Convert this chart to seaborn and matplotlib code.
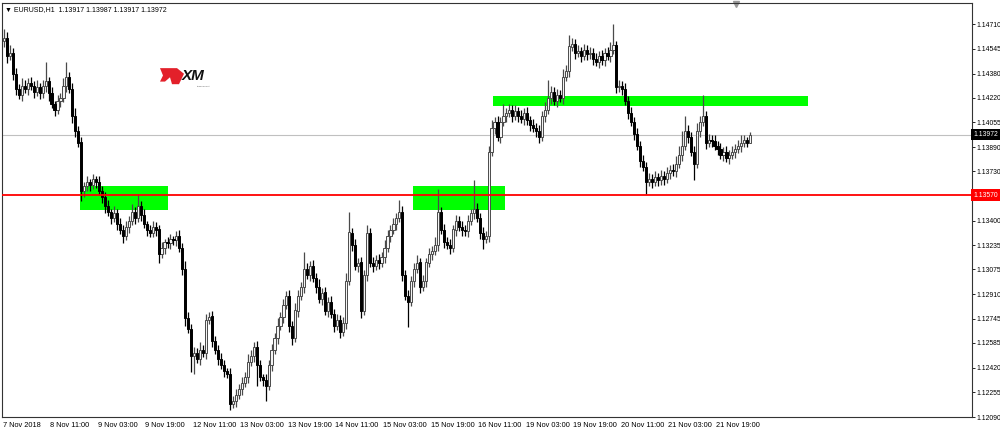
import numpy as np
import pandas as pd
import matplotlib
matplotlib.use("Agg")
import matplotlib.pyplot as plt
import seaborn as sns
from matplotlib.patches import Rectangle, Polygon
from matplotlib.transforms import blended_transform_factory


# EURUSD H1 candles, prices kept in pips above 1.1200
PRICE_BASE = 1.12
PIP = 0.0001

FIRST_OPEN = 260

CLOSES = [
    262, 250, 252, 238, 228, 224, 230, 228, 232, 230,
    226, 229, 225, 230, 233, 225, 218, 214, 220, 222,
    230, 236, 228, 210, 200, 192, 160, 163, 166, 164,
    168, 166, 160, 156, 150, 146, 142, 145, 138, 134,
    130, 136, 140, 146, 142, 150, 144, 138, 134, 132,
    136, 134, 118, 122, 126, 125, 128, 127, 130, 122,
    108, 75, 68, 50, 52, 48, 54, 52, 74, 76,
    60, 54, 48, 44, 40, 38, 18, 20, 24, 28,
    32, 36, 46, 50, 56, 44, 36, 34, 30, 44,
    54, 62, 70, 76, 84, 90, 70, 62, 80, 90,
    96, 108, 104, 110, 102, 96, 88, 92, 80, 86,
    78, 70, 74, 66, 72, 100, 132, 124, 110, 112,
    80, 104, 132, 112, 110, 114, 112, 116, 122, 130,
    134, 138, 142, 146, 104, 90, 86, 100, 108, 112,
    96, 100, 112, 118, 120, 124, 146, 134, 126, 124,
    122, 134, 140, 136, 134, 133, 140, 145, 148, 142,
    132, 128, 130, 186, 202, 206, 196, 206, 210, 212,
    214, 210, 213, 210, 208, 212, 207, 204, 202, 200,
    196, 210, 214, 222, 226, 220, 224, 222, 236, 240,
    256, 258, 252, 253, 250, 254, 251, 252, 248, 246,
    250, 247, 252, 250, 254, 257, 229, 230, 228, 220,
    212, 206, 198, 190, 180, 176, 166, 168, 166, 169,
    167, 170, 168, 172, 174, 173, 178, 184, 190, 200,
    196, 186, 178, 200, 206, 210, 192, 194, 193, 190,
    188, 184, 186, 182, 184, 186, 188, 190, 192, 194,
    191.7, 197.2,
]

UPPER_WICKS = [
    6, 4, 5, 3, 4, 3, 5, 4, 3, 4,
    3, 5, 3, 4, 13, 3, 4, 2, 4, 3,
    5, 10, 3, 4, 5, 3, 4, 3, 4, 2,
    3, 2, 4, 3, 3, 4, 2, 5, 3, 4,
    3, 4, 3, 5, 3, 8, 3, 4, 2, 3,
    4, 3, 3, 4, 2, 3, 3, 2, 3, 4,
    3, 5, 4, 3, 4, 3, 5, 3, 4, 3,
    4, 3, 3, 4, 3, 2, 4, 3, 4, 3,
    4, 3, 5, 4, 3, 4, 3, 2, 4, 3,
    4, 3, 5, 3, 4, 3, 4, 3, 5, 4,
    3, 11, 4, 3, 4, 3, 5, 3, 4, 3,
    4, 3, 4, 3, 4, 5, 14, 3, 4, 3,
    4, 3, 5, 3, 4, 3, 4, 3, 5, 4,
    3, 4, 3, 8, 4, 3, 4, 3, 4, 5,
    3, 4, 3, 4, 3, 5, 15, 3, 4, 3,
    4, 3, 4, 3, 4, 3, 4, 3, 19, 4,
    3, 4, 3, 4, 5, 3, 4, 3, 8, 3,
    4, 3, 4, 3, 4, 3, 4, 3, 4, 3,
    4, 3, 5, 12, 4, 3, 4, 3, 5, 4,
    8, 4, 3, 4, 3, 4, 3, 4, 3, 4,
    3, 4, 3, 4, 5, 14, 3, 4, 3, 4,
    3, 4, 3, 4, 3, 4, 3, 4, 3, 4,
    3, 4, 3, 4, 3, 4, 5, 6, 10, 10,
    4, 3, 4, 5, 4, 14, 3, 4, 3, 4,
    3, 4, 3, 4, 3, 4, 3, 4, 5, 3,
    2, 1.5,
]

LOWER_WICKS = [
    4, 5, 3, 4, 4, 3, 4, 3, 4, 3,
    4, 3, 4, 3, 4, 5, 3, 4, 3, 4,
    3, 4, 3, 5, 4, 3, 7, 4, 3, 4,
    3, 4, 3, 4, 5, 3, 4, 3, 4, 3,
    5, 3, 4, 3, 4, 3, 4, 3, 4, 3,
    3, 4, 6, 3, 4, 3, 4, 3, 4, 3,
    4, 5, 3, 11, 12, 3, 4, 3, 4, 3,
    4, 3, 4, 3, 4, 3, 4, 3, 4, 3,
    4, 3, 4, 3, 4, 14, 3, 4, 10, 3,
    4, 3, 4, 3, 4, 3, 4, 5, 3, 4,
    3, 4, 3, 4, 3, 4, 3, 4, 3, 4,
    3, 4, 3, 4, 3, 4, 3, 4, 3, 4,
    5, 3, 4, 3, 4, 3, 4, 3, 4, 3,
    4, 3, 4, 3, 4, 3, 17, 3, 4, 3,
    4, 3, 4, 3, 4, 3, 4, 3, 4, 3,
    4, 3, 4, 3, 4, 3, 4, 3, 4, 3,
    4, 7, 3, 4, 3, 4, 3, 4, 3, 4,
    3, 4, 3, 4, 3, 4, 3, 4, 3, 4,
    4, 3, 4, 3, 4, 3, 4, 3, 4, 3,
    4, 3, 4, 3, 4, 3, 4, 3, 4, 3,
    4, 3, 4, 3, 4, 3, 4, 3, 4, 3,
    4, 3, 4, 3, 4, 3, 8, 3, 4, 3,
    4, 3, 4, 3, 4, 3, 4, 3, 4, 3,
    4, 3, 11, 3, 4, 3, 4, 3, 4, 3,
    4, 3, 4, 3, 4, 3, 4, 3, 4, 3,
    3, 0,
]

TIME_LABELS = [
    "7 Nov 2018", "8 Nov 11:00", "9 Nov 03:00", "9 Nov 19:00",
    "12 Nov 11:00", "13 Nov 03:00", "13 Nov 19:00", "14 Nov 11:00",
    "15 Nov 03:00", "15 Nov 19:00", "16 Nov 11:00", "19 Nov 03:00",
    "19 Nov 19:00", "20 Nov 11:00", "21 Nov 03:00", "21 Nov 19:00",
]
TIME_LABEL_BARS = [0, 16, 32, 48, 64, 80, 96, 112, 128, 144, 160, 176, 192, 208, 224, 240]

PRICE_TICKS = [
    1.14710, 1.14545, 1.14380, 1.14220, 1.14055, 1.13890, 1.13730,
    1.13400, 1.13235, 1.13075, 1.12910, 1.12745, 1.12585, 1.12420,
    1.12255, 1.12090,
]

SUPPORT_LEVEL = 1.13570
LAST_PRICE = 1.13972
TITLE = "\u25bc EURUSD,H1  1.13917 1.13987 1.13917 1.13972"

# supply / demand zones drawn on the chart (bar index span, price span)
ZONE_STARTS = [25.6, 137.6, 164.5]
ZONE_ENDS = [55.2, 168.5, 270.4]
ZONE_LOWS = [1.13470, 1.13470, 1.14163]
ZONE_HIGHS = [1.13630, 1.13630, 1.14230]

LABEL_FONT = ["Liberation Sans", "DejaVu Sans"]


def build_candles() -> pd.DataFrame:
    """
    Turn the close / wick lists into an OHLC table in price units.
    """
    opens = [FIRST_OPEN] + CLOSES[:-1]
    candles = pd.DataFrame({
        "bar": np.arange(len(CLOSES)),
        "open": opens,
        "close": CLOSES,
        "up": UPPER_WICKS,
        "dn": LOWER_WICKS,
    })
    candles["high"] = candles[["open", "close"]].max(axis=1) + candles["up"]
    candles["low"] = candles[["open", "close"]].min(axis=1) - candles["dn"]
    for column in ["open", "close", "high", "low"]:
        candles[column] = PRICE_BASE + candles[column] * PIP
    candles["bull"] = candles["close"] >= candles["open"]
    return candles


candles = build_candles()

sns.set_theme(style="white")
plt.rcParams["font.family"] = LABEL_FONT

fig = plt.figure(figsize=(10, 4.34), dpi=100)
ax = fig.add_axes([0.002, 1 - 417 / 434, 0.970, 414 / 434])

# zones first so candles sit on top
for start, end, low, high in zip(ZONE_STARTS, ZONE_ENDS, ZONE_LOWS, ZONE_HIGHS):
    ax.add_patch(Rectangle((start, low), end - start, high - low,
                           facecolor="#00ff00", edgecolor="none", zorder=1))

ax.axhline(LAST_PRICE, color="#c0c0c0", lw=0.8, zorder=1.5)
ax.axhline(SUPPORT_LEVEL, color="#ff0000", lw=1.3, zorder=4)

bull = candles[candles["bull"]]
bear = candles[~candles["bull"]]

ax.vlines(bull["bar"], bull["low"], bull["high"], color="#4a4a4a", lw=0.9, zorder=2)
ax.vlines(bear["bar"], bear["low"], bear["high"], color="#000000", lw=0.9, zorder=2)

body_min = 0.3 * PIP
ax.bar(bull["bar"], np.maximum(bull["close"] - bull["open"], body_min), bottom=bull["open"],
       width=0.72, facecolor="#f4f4f4", edgecolor="#4a4a4a", lw=0.7, zorder=3)
ax.bar(bear["bar"], np.maximum(bear["open"] - bear["close"], body_min), bottom=bear["close"],
       width=0.72, facecolor="black", edgecolor="black", lw=0.7, zorder=3)

ax.set_xlim(-0.67, 325.6)
ax.set_ylim(1.12090, 1.12090 + 414 / 15000)

ax.yaxis.tick_right()
ax.set_yticks(PRICE_TICKS + [SUPPORT_LEVEL])
ax.set_yticklabels([f"{p:.5f}" for p in PRICE_TICKS] + [""])
ax.set_xticks([b - 0.5 for b in TIME_LABEL_BARS])
ax.set_xticklabels(TIME_LABELS, ha="left")
ax.tick_params(axis="both", length=2.2, width=0.6, colors="#000000", labelsize=5.3,
               direction="out")
ax.tick_params(axis="y", pad=0.7, labelsize=4.9)
ax.tick_params(axis="x", pad=1.2)
for spine in ax.spines.values():
    spine.set_color("#333333")
    spine.set_linewidth(0.8)
ax.grid(False)

# price boxes on the right scale
box_transform = blended_transform_factory(ax.transAxes, ax.transData)
ax.text(1.0015, SUPPORT_LEVEL, f"{SUPPORT_LEVEL:.5f}", transform=box_transform, fontsize=4.9,
        color="white", va="center", ha="left", clip_on=False,
        bbox=dict(boxstyle="square,pad=0.3", fc="#ff0000", ec="none"))
ax.text(1.0015, LAST_PRICE, f"{LAST_PRICE:.5f}", transform=box_transform, fontsize=4.9,
        color="white", va="center", ha="left", clip_on=False,
        bbox=dict(boxstyle="square,pad=0.3", fc="#000000", ec="none"))

ax.text(0.003, 0.993, TITLE, transform=ax.transAxes, fontsize=5.0, va="top", ha="left",
        color="#000000")

# broker logo
logo = Polygon([(0.160, 0.843), (0.177, 0.843), (0.184, 0.830), (0.179, 0.806),
                (0.172, 0.806), (0.170, 0.822), (0.165, 0.812), (0.160, 0.812),
                (0.163, 0.826)],
               closed=True, transform=fig.transFigure, facecolor="#e3202a",
               edgecolor="none")
fig.patches.append(logo)
fig.text(0.182, 0.826, "XM", fontsize=11, fontweight="bold", fontstyle="italic",
         color="#111111", va="center", ha="left")
fig.text(0.197, 0.801, "trading point", fontsize=1.6, color="#555555", va="center", ha="left")

# chart shift marker
ax.plot([0.757], [0.998], transform=ax.transAxes, marker="v", ms=4, color="#999999",
        clip_on=False)

fig.savefig("out.png", dpi=100)
plt.close(fig)
